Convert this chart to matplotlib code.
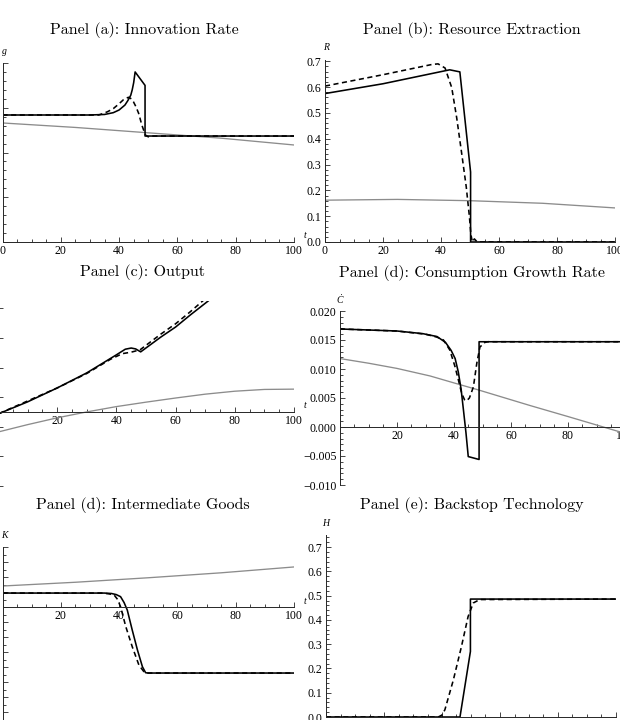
import numpy as np
import matplotlib.pyplot as plt
from matplotlib.ticker import MultipleLocator, FixedLocator, NullFormatter, FixedFormatter

# ---- data (t in years) ----
# Panel (a): innovation rate g
a_solid_t = [0, 30, 35, 38, 40, 42, 43, 44, 44.5, 45, 45.5, 48.9, 48.9, 100]
a_solid_y = [0.01419, 0.01419, 0.01425, 0.01445, 0.01475, 0.0153, 0.0158, 0.0164, 0.0170, 0.0178, 0.0190, 0.0175, 0.01184, 0.01184]
a_dash_t = [0, 33, 34, 36, 38, 40, 41.5, 43.2, 44.2, 44.9, 45.8, 46.7, 47.8, 49, 50, 51, 100]
a_dash_y = [0.01419, 0.01419, 0.0143, 0.01455, 0.0149, 0.01545, 0.0159, 0.01617, 0.0160, 0.01568, 0.0151, 0.01438, 0.01307, 0.01196, 0.01175, 0.01184, 0.01184]
a_gray_t = [0, 25, 50, 75, 100]
a_gray_y = [0.0133, 0.0128, 0.0122, 0.0116, 0.01084]

# Panel (b): resource extraction R
b_solid_t = [0, 20, 40, 43, 46.5, 50.2, 50.2, 100]
b_solid_y = [0.575, 0.613, 0.66, 0.667, 0.659, 0.271, 0.0, 0.0]
b_dash_t = [0, 20, 37, 39, 41.4, 43.7, 45.4, 47, 48.7, 49.8, 50.3, 50.8, 51.5, 52.5, 100]
b_dash_y = [0.604, 0.648, 0.688, 0.69, 0.674, 0.598, 0.482, 0.354, 0.214, 0.098, 0.03, 0.0, 0.012, 0.0, 0.0]
b_gray_t = [0, 25, 50, 75, 100]
b_gray_y = [0.162, 0.165, 0.16, 0.15, 0.132]

# Panel (c): output (axis units, labels not shown in the reference)
c_solid_t = [0, 10, 20, 30, 40, 43, 45, 46.5, 48.2, 55, 60, 65, 71, 75]
c_solid_y = [-0.07, 0.34, 0.81, 1.32, 1.93, 2.12, 2.16, 2.13, 2.03, 2.53, 2.87, 3.28, 3.75, 4.1]
c_dash_t = [0, 20, 30, 38, 42, 45, 48, 55, 60, 65, 72]
c_dash_y = [-0.07, 0.81, 1.3, 1.78, 1.97, 2.02, 2.1, 2.63, 2.98, 3.39, 4.0]
c_gray_t = [0, 10, 20, 30, 40, 50, 60, 70, 80, 90, 100]
c_gray_y = [-0.68, -0.43, -0.2, 0.0, 0.18, 0.33, 0.47, 0.6, 0.7, 0.76, 0.77]

# Panel (d): consumption growth rate
d_solid_t = [0, 20, 29, 34, 37, 39, 40.4, 41.5, 42.5, 43.3, 44.2, 45, 48.8, 48.8, 100]
d_solid_y = [0.0169, 0.01655, 0.0161, 0.0156, 0.0146, 0.0132, 0.0118, 0.0095, 0.0065, 0.003, -0.001, -0.0051, -0.0056, 0.0147, 0.0147]
d_dash_t = [0, 20, 30, 34, 36.3, 38.5, 40.3, 41.7, 42.7, 43.7, 44.4, 45.4, 46.8, 48, 49.1, 50.9, 52, 100]
d_dash_y = [0.0169, 0.01655, 0.0160, 0.0155, 0.0150, 0.0133, 0.0105, 0.0078, 0.0058, 0.0047, 0.0045, 0.0050, 0.0069, 0.011, 0.0138, 0.0146, 0.0147, 0.0147]
d_gray_t = [0, 10, 20, 31.6, 40, 48.5, 66.7, 80, 92.4, 100]
d_gray_y = [0.0118, 0.0110, 0.0101, 0.0088, 0.0076, 0.0064, 0.0037, 0.0018, 0.0, -0.0011]

# Panel (e, left): intermediate goods K (axis units)
k_solid_t = [0, 35, 37.4, 39, 40.5, 41.7, 42.8, 44.5, 46.3, 48, 49.1, 50, 100]
k_solid_y = [0.093, 0.093, 0.09, 0.083, 0.069, 0.03, -0.02, -0.153, -0.287, -0.398, -0.438, -0.44, -0.44]
k_dash_t = [0, 34, 36.5, 38.3, 39.5, 40.5, 42.3, 44.5, 46.8, 48.5, 50, 100]
k_dash_y = [0.093, 0.093, 0.088, 0.08, 0.05, 0.002, -0.131, -0.264, -0.387, -0.431, -0.44, -0.44]
k_gray_t = [0, 25, 50, 75, 100]
k_gray_y = [0.14, 0.165, 0.195, 0.228, 0.267]

# Panel (e, right): backstop technology H
h_solid_t = [0, 46.2, 49.8, 49.8, 100]
h_solid_y = [0, 0, 0.27, 0.486, 0.486]
h_dash_t = [0, 38.7, 40, 41, 43.9, 46.7, 49, 50.8, 53, 100]
h_dash_y = [0, 0, 0.008, 0.03, 0.152, 0.29, 0.414, 0.47, 0.484, 0.486]

W, H = 620, 720
plt.rcParams['font.family'] = ['Liberation Serif', 'DejaVu Serif']
fig = plt.figure(figsize=(W / 100, H / 100), dpi=100)


def make_axes(l, t, r, b, ylim, ymajor, yminor, ylabels=None, xlabels0=True):
    ax = fig.add_axes([l / W, 1 - b / H, (r - l) / W, (b - t) / H])
    ax.set_xlim(0, 100)
    ax.set_ylim(*ylim)
    for s in ['top', 'right']:
        ax.spines[s].set_visible(False)
    ax.spines['bottom'].set_position(('data', 0))
    for s in ['left', 'bottom']:
        ax.spines[s].set_linewidth(0.7)
        ax.spines[s].set_color('0.15')
    ax.patch.set_alpha(0)
    xt = [0, 20, 40, 60, 80, 100] if xlabels0 else [20, 40, 60, 80, 100]
    ax.xaxis.set_major_locator(FixedLocator(xt))
    ax.xaxis.set_major_formatter(FixedFormatter([str(v) for v in xt]))
    ax.xaxis.set_minor_locator(MultipleLocator(5))
    ax.yaxis.set_major_locator(FixedLocator(ymajor))
    if yminor:
        ax.yaxis.set_minor_locator(MultipleLocator(yminor))
    if ylabels is None:
        ax.yaxis.set_major_formatter(NullFormatter())
    else:
        ax.yaxis.set_major_formatter(FixedFormatter(ylabels))
    ax.tick_params(which='both', direction='in', color='0.15', width=0.6, labelsize=8.5, pad=2.5)
    ax.tick_params(which='major', length=3.5)
    ax.tick_params(which='minor', length=2)
    return ax


def draw(ax, st, sy, dt, dy, gt=None, gy=None):
    if gt is not None:
        ax.plot(gt, gy, color='0.55', lw=0.95)
    ax.plot(st, sy, color='black', lw=1.15)
    ax.plot(dt, dy, color='black', lw=1.15, dashes=(3.2, 2.2))


def title(x, y, s):
    fig.text(x / W, 1 - y / H, s, ha='center', va='center', fontsize=11.5, family=['cmr10', 'DejaVu Serif'])


def alabel(x, y, s):
    fig.text(x / W, 1 - y / H, s, ha='center', va='center', fontsize=7, style='italic')


# (a)
ax = make_axes(2.5, 63, 294, 242, (0, 0.02), np.arange(0, 0.0201, 0.005), 0.001)
draw(ax, a_solid_t, a_solid_y, a_dash_t, a_dash_y, a_gray_t, a_gray_y)
title(144, 30, 'Panel (a): Innovation Rate')
alabel(4, 52, 'g')
alabel(305, 236, 't')

# (b)
ax = make_axes(325, 60, 615, 242, (0, 0.705), np.arange(0, 0.71, 0.1), 0.02,
               ylabels=['%.1f' % v for v in np.arange(0, 0.71, 0.1)])
draw(ax, b_solid_t, b_solid_y, b_dash_t, b_dash_y, b_gray_t, b_gray_y)
title(472, 30, 'Panel (b): Resource Extraction')
alabel(326, 48, 'R')

# (c)
ax = make_axes(-2, 301, 294, 490, (-2.64, 3.75), [-2.5, -1.5, -0.5, 0.5, 1.5, 2.5, 3.5], None, xlabels0=False)
draw(ax, c_solid_t, c_solid_y, c_dash_t, c_dash_y, c_gray_t, c_gray_y)
title(143, 272, 'Panel (c): Output')
alabel(305, 406, 't')

# (d)
dticks = [-0.010, -0.005, 0.0, 0.005, 0.010, 0.015, 0.020]
ax = make_axes(340, 311, 625, 485, (-0.010, 0.020), dticks, 0.001,
               ylabels=[('%.3f' % v).replace('-', '\u2212') for v in dticks], xlabels0=False)
draw(ax, d_solid_t, d_solid_y, d_dash_t, d_dash_y, d_gray_t, d_gray_y)
title(472, 273, 'Panel (d): Consumption Growth Rate')
alabel(340, 300, '\u010a')

# (e, left)
ax = make_axes(2.5, 547, 294, 720, (-0.753, 0.4), np.arange(-0.7, 0.41, 0.1), 0.05, xlabels0=False)
draw(ax, k_solid_t, k_solid_y, k_dash_t, k_dash_y, k_gray_t, k_gray_y)
title(143, 505, 'Panel (d): Intermediate Goods')
alabel(4, 535, 'K')
alabel(305, 601, 't')

# (e, right)
ax = make_axes(326, 535, 616, 717, (0, 0.75), np.arange(0, 0.71, 0.1), 0.02,
               ylabels=['%.1f' % v for v in np.arange(0, 0.71, 0.1)])
draw(ax, h_solid_t, h_solid_y, h_dash_t, h_dash_y)
title(472, 505, 'Panel (e): Backstop Technology')
alabel(326, 523, 'H')

fig.savefig('out.png', dpi=100)
